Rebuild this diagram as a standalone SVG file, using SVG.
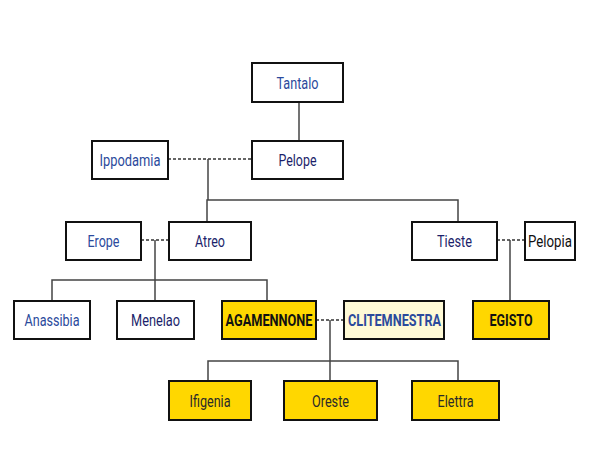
<svg xmlns="http://www.w3.org/2000/svg" width="600" height="475" viewBox="0 0 600 475">
<style>
.b{fill:#fff;stroke:#111;stroke-width:2}
.y{fill:#ffd700;stroke:#111;stroke-width:2}
.ly{fill:#fffad6;stroke:#111;stroke-width:2}
text{font-family:Roboto,"Liberation Sans",sans-serif;font-size:17px;text-anchor:middle}
.bl{fill:#2b4a9c}
.nv{fill:#1c1f6b}
.bk{fill:#111}
.dg{fill:#2a2a2a}
.bd{font-weight:bold}
.s{fill:none;stroke:#444;stroke-width:1.5}
.d{fill:none;stroke:#333;stroke-width:1.5;stroke-dasharray:3 2}
</style>
<rect width="600" height="475" fill="#fff"/>
<g id="connectors">
<line class="s" x1="299" y1="102" x2="299" y2="141"/>
<line class="d" x1="168" y1="159" x2="252" y2="159"/>
<polyline class="s" points="208,159 208,200"/>
<polyline class="s" points="207,222 207,200 458,200 458,222"/>
<line class="d" x1="141" y1="240" x2="169" y2="240"/>
<line class="s" x1="155" y1="240" x2="155" y2="301"/>
<polyline class="s" points="52,301 52,280 267,280 267,301"/>
<line class="d" x1="497" y1="240" x2="525" y2="240"/>
<line class="s" x1="510" y1="240" x2="510" y2="301"/>
<line class="d" x1="316" y1="320" x2="344" y2="320"/>
<line class="s" x1="330" y1="320" x2="330" y2="381"/>
<polyline class="s" points="208,381 208,361 458,361 458,381"/>
</g>
<g id="tantalo"><rect class="b" x="252" y="63" width="91" height="39"/><text class="bl" x="297.5" y="88.5" textLength="42" lengthAdjust="spacingAndGlyphs">Tantalo</text></g>
<g id="ippodamia"><rect class="b" x="92" y="141" width="76" height="38"/><text class="bl" x="130" y="166" textLength="61" lengthAdjust="spacingAndGlyphs">Ippodamia</text></g>
<g id="pelope"><rect class="b" x="252" y="141" width="91" height="38"/><text class="nv" x="297.5" y="166" textLength="38" lengthAdjust="spacingAndGlyphs">Pelope</text></g>
<g id="erope"><rect class="b" x="66" y="222" width="75" height="38"/><text class="bl" x="103.5" y="247" textLength="32" lengthAdjust="spacingAndGlyphs">Erope</text></g>
<g id="atreo"><rect class="b" x="169" y="222" width="82" height="38"/><text class="nv" x="210" y="247" textLength="30" lengthAdjust="spacingAndGlyphs">Atreo</text></g>
<g id="tieste"><rect class="b" x="412" y="222" width="85" height="38"/><text class="nv" x="454.5" y="247" textLength="35" lengthAdjust="spacingAndGlyphs">Tieste</text></g>
<g id="pelopia"><rect class="b" x="525" y="222" width="50" height="38"/><text class="bk" x="550" y="247" textLength="44" lengthAdjust="spacingAndGlyphs">Pelopia</text></g>
<g id="anassibia"><rect class="b" x="14" y="301" width="76" height="38"/><text class="bl" x="52" y="326" textLength="55" lengthAdjust="spacingAndGlyphs">Anassibia</text></g>
<g id="menelao"><rect class="b" x="117" y="301" width="77" height="38"/><text class="nv" x="155.5" y="326" textLength="49" lengthAdjust="spacingAndGlyphs">Menelao</text></g>
<g id="agamennone"><rect class="y" x="222" y="301" width="94" height="38"/><text class="bk bd" x="269" y="326" textLength="87" lengthAdjust="spacingAndGlyphs">AGAMENNONE</text></g>
<g id="clitemnestra"><rect class="ly" x="344" y="301" width="100" height="38"/><text class="bl bd" x="394.5" y="326" textLength="93" lengthAdjust="spacingAndGlyphs">CLITEMNESTRA</text></g>
<g id="egisto"><rect class="y" x="473" y="301" width="76" height="38"/><text class="bk bd" x="511" y="326" textLength="43" lengthAdjust="spacingAndGlyphs">EGISTO</text></g>
<g id="ifigenia"><rect class="y" x="169" y="381" width="82" height="39"/><text class="dg" x="210" y="406.5" textLength="41" lengthAdjust="spacingAndGlyphs">Ifigenia</text></g>
<g id="oreste"><rect class="y" x="284" y="381" width="93" height="39"/><text class="dg" x="330.5" y="406.5" textLength="37" lengthAdjust="spacingAndGlyphs">Oreste</text></g>
<g id="elettra"><rect class="y" x="412" y="381" width="87" height="39"/><text class="dg" x="455.5" y="406.5" textLength="36" lengthAdjust="spacingAndGlyphs">Elettra</text></g>
</svg>
